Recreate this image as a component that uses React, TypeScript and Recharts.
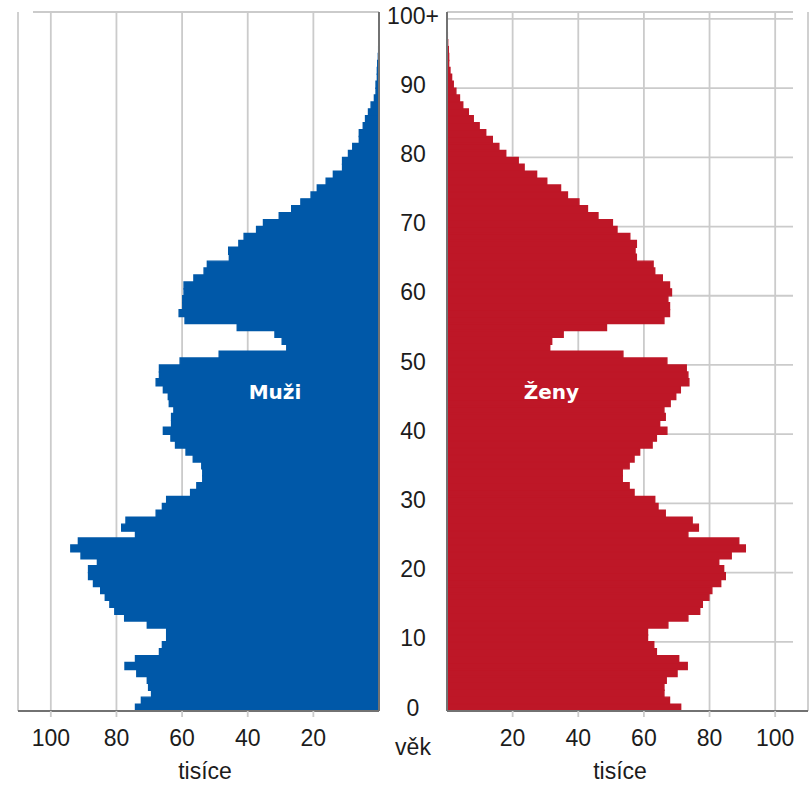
import React from 'react';
import { BarChart, Bar, XAxis, YAxis, CartesianGrid, ReferenceDot } from 'recharts';

// Age categories (single years, 100 = "100+")
const ages = [
  0, 1, 2, 3, 4, 5, 6, 7, 8, 9,
  10, 11, 12, 13, 14, 15, 16, 17, 18, 19,
  20, 21, 22, 23, 24, 25, 26, 27, 28, 29,
  30, 31, 32, 33, 34, 35, 36, 37, 38, 39,
  40, 41, 42, 43, 44, 45, 46, 47, 48, 49,
  50, 51, 52, 53, 54, 55, 56, 57, 58, 59,
  60, 61, 62, 63, 64, 65, 66, 67, 68, 69,
  70, 71, 72, 73, 74, 75, 76, 77, 78, 79,
  80, 81, 82, 83, 84, 85, 86, 87, 88, 89,
  90, 91, 92, 93, 94, 95, 96, 97, 98, 99,
  100,
];

// Men, thousands (ages 0..100)
const menThousands = [
  74.2, 72.4, 69.3, 70.2, 70.6, 73.8, 77.4, 74.2, 66.9, 66.0,
  64.7, 64.7, 70.6, 77.5, 80.5, 82.0, 83.4, 84.8, 87.0, 88.5,
  88.5, 85.8, 90.8, 93.9, 91.6, 74.2, 78.4, 77.1, 67.9, 66.0,
  64.7, 57.4, 55.5, 53.7, 53.7, 54.0, 56.6, 58.8, 62.0, 63.4,
  65.7, 63.2, 63.2, 62.5, 63.9, 64.2, 65.7, 67.9, 66.9, 66.9,
  60.6, 48.7, 28.1, 29.5, 31.7, 43.2, 59.1, 60.9, 59.8, 59.8,
  59.4, 59.4, 56.4, 53.3, 52.3, 45.6, 45.8, 42.7, 41.1, 37.3,
  35.2, 30.4, 26.6, 23.8, 20.7, 18.8, 16.1, 13.9, 11.1, 11.1,
  9.3, 8.0, 6.0, 6.0, 4.8, 4.1, 3.2, 2.4, 1.4, 0.9,
  0.9, 0.5, 0.5, 0.4, 0.2, 0.1, 0, 0, 0, 0,
  0,
];

// Women, thousands (ages 0..100)
const womenThousands = [
  71.2, 67.8, 66.1, 66.1, 66.8, 70.1, 73.2, 70.6, 63.8, 63.0,
  61.1, 61.1, 67.3, 73.4, 77.0, 77.8, 79.8, 80.7, 83.4, 84.8,
  84.3, 82.8, 86.6, 90.9, 88.9, 73.4, 76.6, 74.7, 66.5, 64.3,
  63.3, 57.0, 55.5, 53.4, 53.4, 55.5, 57.0, 58.7, 62.5, 63.8,
  67.0, 64.8, 66.5, 66.1, 68.0, 69.7, 71.1, 73.7, 73.4, 72.9,
  67.0, 53.6, 31.3, 31.9, 35.4, 48.6, 66.1, 67.8, 67.8, 67.3,
  68.4, 67.8, 65.6, 63.3, 62.8, 57.7, 57.3, 57.7, 55.7, 51.8,
  50.4, 46.0, 42.8, 40.2, 36.7, 34.6, 30.4, 27.3, 23.5, 21.7,
  17.9, 15.8, 13.8, 11.8, 9.8, 8.0, 6.5, 4.8, 3.8, 2.7,
  1.9, 1.4, 0.9, 0.5, 0.5, 0.4, 0.2, 0.1, 0, 0,
  0,
];

const ageTicks = [0, 10, 20, 30, 40, 50, 60, 70, 80, 90, 100];
const valueTicks = [20, 40, 60, 80, 100];
const menLabel = 'Muži';
const womenLabel = 'Ženy';
const unitLabel = 'tisíce';
const ageLabel = 'věk';
const topAgeLabel = '100+';

const data = ages.map((age, i) => ({ age, m: menThousands[i], f: womenThousands[i] }));

const BLUE = '#0058a8';
const RED = '#be1727';
const GRID = '#cbcbcb';
const AXIS = '#727272';
const TEXT = '#1c1c1c';
const FONT = '"Liberation Sans", Arial, sans-serif';
const BOLD_FONT = '"DejaVu Sans", Verdana, sans-serif';
const FS = 23;

const BottomTick = (props: any) => {
  const { x, y, payload } = props;
  return (
    <text x={x} y={y} dy={28.7} textAnchor="middle" fill={TEXT} fontFamily={FONT} fontSize={FS}>
      {payload.value}
    </text>
  );
};

const AgeTick = (props: any) => {
  const { x, y, payload } = props;
  const label = payload.value === 100 ? topAgeLabel : String(payload.value);
  return (
    <text x={x - 34} y={y + 4.7} textAnchor="middle" fill={TEXT} fontFamily={FONT} fontSize={FS}>
      {label}
    </text>
  );
};

const unitLabelContent = (shift: number) => (props: any) => {
  const vb = props.viewBox || {};
  return (
    <text
      x={vb.x + vb.width / 2 + shift}
      y={vb.y + 67.5}
      textAnchor="middle"
      fill={TEXT}
      fontFamily={FONT}
      fontSize={FS}
    >
      {unitLabel}
    </text>
  );
};

const ageLabelContent = (props: any) => {
  const vb = props.viewBox || {};
  return (
    <text
      x={vb.x + vb.width / 2}
      y={vb.y + vb.height + 43.5}
      textAnchor="middle"
      fill={TEXT}
      fontFamily={FONT}
      fontSize={FS}
    >
      {ageLabel}
    </text>
  );
};

const panelText = (text: string) => (props: any) => (
  <text
    x={props.cx}
    y={props.cy + 7.3}
    textAnchor="middle"
    fill="#ffffff"
    fontFamily={BOLD_FONT}
    fontWeight="bold"
    fontSize={20}
  >
    {text}
  </text>
);

export default function App() {
  return (
    <div style={{ position: 'absolute', left: 0, top: 0, width: 812, height: 788, background: '#fff' }}>
      <div style={{ position: 'absolute', left: 0, top: 0 }}>
        <BarChart
          width={380}
          height={788}
          data={data}
          layout="vertical"
          margin={{ top: 12, right: 0, bottom: 0, left: 18 }}
          barCategoryGap={0}
          barGap={0}
        >
          <CartesianGrid stroke={GRID} strokeWidth={1.8} x={33} width={346} />
          <XAxis
            type="number"
            domain={[0, 110]}
            reversed
            ticks={valueTicks}
            interval={0}
            allowDataOverflow
            height={77}
            tickSize={6}
            tickMargin={0}
            tick={<BottomTick />}
            tickLine={{ stroke: GRID, strokeWidth: 1.8 }}
            axisLine={{ stroke: AXIS, strokeWidth: 2 }}
            label={{ content: unitLabelContent(6.5) }}
          />
          <YAxis
            yAxisId={0}
            type="number"
            dataKey="age"
            domain={[0, 101]}
            ticks={ageTicks}
            reversed
            allowDataOverflow
            orientation="right"
            width={1}
            tick={false}
            tickLine={false}
            axisLine={{ stroke: AXIS, strokeWidth: 2 }}
          />
          <YAxis yAxisId="cat" type="category" dataKey="age" reversed hide />
          <Bar
            dataKey="m"
            yAxisId="cat"
            fill={BLUE}
            stroke={BLUE}
            strokeWidth={1.4}
            isAnimationActive={false}
          />
          <ReferenceDot x={31.7} y={46.2} yAxisId={0} r={0} shape={panelText(menLabel)} />
        </BarChart>
      </div>
      <div style={{ position: 'absolute', left: 379, top: 0 }}>
        <BarChart
          width={433}
          height={788}
          data={data}
          layout="vertical"
          margin={{ top: 12, right: 4, bottom: 0, left: 0 }}
          barCategoryGap={0}
          barGap={0}
        >
          <CartesianGrid stroke={GRID} strokeWidth={1.8} x={68} width={346} />
          <XAxis
            type="number"
            domain={[0, 110]}
            ticks={valueTicks}
            interval={0}
            allowDataOverflow
            height={77}
            tickSize={6}
            tickMargin={0}
            tick={<BottomTick />}
            tickLine={{ stroke: GRID, strokeWidth: 1.8 }}
            axisLine={{ stroke: AXIS, strokeWidth: 2 }}
            label={{ content: unitLabelContent(-7.5) }}
          />
          <YAxis
            yAxisId={0}
            type="number"
            dataKey="age"
            domain={[0, 101]}
            ticks={ageTicks}
            reversed
            interval={0}
            allowDataOverflow
            orientation="left"
            width={68}
            tickSize={0}
            tickMargin={0}
            tick={<AgeTick />}
            tickLine={false}
            axisLine={{ stroke: AXIS, strokeWidth: 2 }}
            label={{ content: ageLabelContent }}
          />
          <YAxis yAxisId="cat" type="category" dataKey="age" reversed hide />
          <Bar
            dataKey="f"
            yAxisId="cat"
            fill={RED}
            stroke={RED}
            strokeWidth={1.4}
            isAnimationActive={false}
          />
          <ReferenceDot x={31.8} y={46.2} yAxisId={0} r={0} shape={panelText(womenLabel)} />
        </BarChart>
      </div>
    </div>
  );
}
